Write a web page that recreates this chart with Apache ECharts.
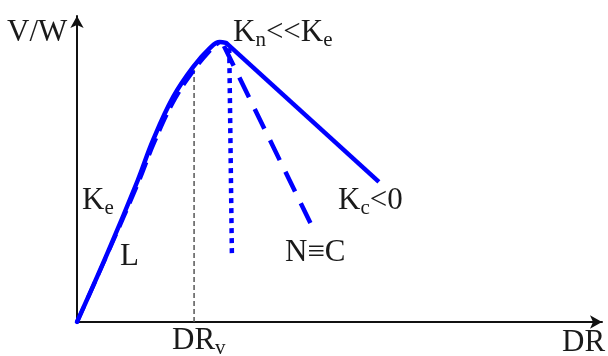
<!DOCTYPE html>
<html><head><meta charset="utf-8">
<script src="https://cdn.jsdelivr.net/npm/echarts@6/dist/echarts.min.js"></script>
<style>html,body{margin:0;padding:0;background:#fff}#c{width:608px;height:356px}</style>
</head><body><div id="c"></div>
<script>
// Data (arbitrary units: DR on x, V/W on y)
const solidRise = [[0,0],[0.59,2.29],[1.16,4.64],[1.45,5.95],[1.83,7.35],[2.21,8.33],[2.53,8.95],[2.72,9.15],[2.84,9.12]];
const solidFall = [[2.84,9.12],[5.75,4.58]];
const dashedRise = [[0,0],[0.6,2.3],[1.18,4.6],[1.48,5.9],[1.87,7.3],[2.25,8.28],[2.55,8.9],[2.72,9.15]];
const dashedFall = [[2.8,9.02],[4.53,2.94]];
const dottedDrop = [[2.9,8.95],[2.95,2.25]];
const drvMarker = [[2.23,0],[2.23,8.24]];
const labels = [
  {t:'{m|V/W}', x:7, b:42},
  {t:'{m|K}{s|n}{m|<<K}{s|e}', x:233, b:42},
  {t:'{m|K}{s|e}', x:82, b:210},
  {t:'{m|L}', x:120, b:266},
  {t:'{m|K}{s|c}{m|<0}', x:338, b:210},
  {t:'{m|N≡C}', x:285, b:262},
  {t:'{m|DR}{s|v}', x:172, b:350},
  {t:'{m|DR}', x:562, b:352}
];

const FONT = '"Liberation Serif","Times New Roman",serif';
const BLUE = '#0000ff';
const chart = echarts.init(document.getElementById('c'), null, {renderer:'canvas'});
const axisCommon = {
  type:'value', min:0, max:10,
  axisLine:{show:true, onZero:false, symbol:['none','arrow'], symbolSize:[10,12], lineStyle:{color:'#111', width:2}},
  axisTick:{show:false}, axisLabel:{show:false}, splitLine:{show:false}
};
function line(data, style, smooth){
  return {type:'line', data, smooth: smooth||false, symbol:'none', silent:true, animation:false, lineStyle:style, z: style.z||2};
}
chart.setOption({
  animation:false,
  grid:{left:77, right:6, top:16, bottom:34, containLabel:false},
  xAxis: axisCommon,
  yAxis: axisCommon,
  series:[
    line(drvMarker, {color:'#555', width:1.5, type:[5,3]}),
    line(dashedRise, {color:BLUE, width:4, type:[18,8]}, 0.4),
    line(dashedFall, {color:BLUE, width:4.5, type:[22,13], cap:'butt'}),
    line(dottedDrop, {color:BLUE, width:4.5, type:[5,5], cap:'butt'}),
    line(solidRise, {color:BLUE, width:4.5, cap:'round', join:'round'}, 0.4),
    line(solidFall, {color:BLUE, width:4.5, cap:'butt'})
  ],
  graphic: labels.map(l => ({
    type:'text', x:l.x, y:l.b - 27.5, silent:true,
    style:{
      text:l.t, fill:'#1a1a1a', textVerticalAlign:'top', verticalAlign:'top',
      rich:{
        m:{fontSize:31, lineHeight:36, fontFamily:FONT, fill:'#1a1a1a', color:'#1a1a1a'},
        s:{fontSize:21, lineHeight:20, verticalAlign:'bottom', fontFamily:FONT, fill:'#1a1a1a', color:'#1a1a1a'}
      }
    }
  }))
});
</script></body></html>
